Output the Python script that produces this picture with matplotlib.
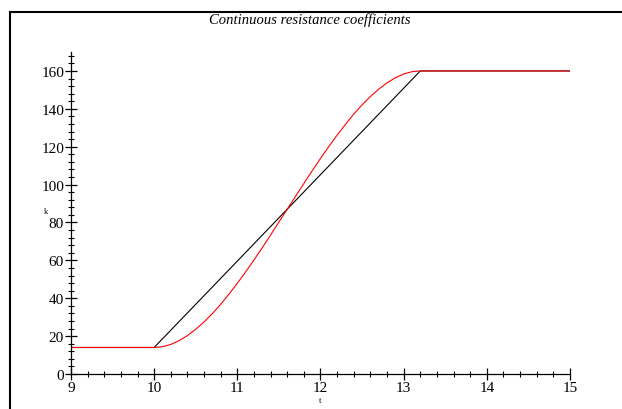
import numpy as np
import matplotlib
matplotlib.use('Agg')
import matplotlib.pyplot as plt
from matplotlib.lines import Line2D
from matplotlib.ticker import MultipleLocator

plt.rcParams['font.family'] = 'Liberation Serif'

#Piecewise linear coefficient (black)
t_lin = [9, 10, 13.2, 15]
k_lin = [14, 14, 160, 160]

#Smooth coefficient (red)
t_smooth = [9, 10, 10.1, 10.2, 10.3, 10.4, 10.5, 10.6, 10.7, 10.8, 10.9,
            11.0, 11.1, 11.2, 11.3, 11.4, 11.5, 11.6, 11.7, 11.8, 11.9,
            12.0, 12.1, 12.2, 12.3, 12.4, 12.5, 12.6, 12.7, 12.8, 12.9,
            13.0, 13.1, 13.2, 15]
k_smooth = [14, 14, 14.4, 15.6, 17.6, 20.3, 23.6, 27.5, 31.9, 36.8, 42.2,
            47.9, 53.9, 60.2, 66.7, 73.4, 80.2, 87.0, 93.8, 100.6, 107.3,
            113.8, 120.1, 126.1, 131.8, 137.2, 142.1, 146.5, 150.4, 153.7, 156.4,
            158.4, 159.6, 160, 160]

title = "Continuous resistance coefficients"

fig = plt.figure(figsize=(6.22, 4.10), dpi=100)
ax = fig.add_axes([71/622, 35/410, 499/622, 322/410])

ax.plot(t_lin, k_lin, color='black', lw=0.8)
ax.plot(t_smooth, k_smooth, color='#ff0000', lw=0.8)

ax.set_xlim(9, 15)
ax.set_ylim(0, 170)
ax.spines['top'].set_visible(False)
ax.spines['right'].set_visible(False)
for s in ['left', 'bottom']:
    ax.spines[s].set_linewidth(0.9)

ax.xaxis.set_major_locator(MultipleLocator(1))
ax.xaxis.set_minor_locator(MultipleLocator(0.2))
ax.yaxis.set_major_locator(MultipleLocator(20))
ax.yaxis.set_minor_locator(MultipleLocator(4))
ax.tick_params(which='major', direction='inout', length=8, width=0.9, labelsize=11, pad=1)
ax.tick_params(which='minor', direction='inout', length=4, width=0.8)

#Axis names, small like the original
ax.text(-0.05, 86 / 170, 'k', transform=ax.transAxes, fontsize=6, ha='center', va='center')
ax.text(0.5, -0.08, 't', transform=ax.transAxes, fontsize=6, ha='center', va='center')

fig.text(310/622, 1 - 20/410, title, fontsize=10.5, style='italic', ha='center', va='center')

#Outer frame (top and left edges visible)
fig.add_artist(Line2D([9.5/622, 1], [1 - 12.5/410, 1 - 12.5/410], color='black', lw=1.5,
                      transform=fig.transFigure))
fig.add_artist(Line2D([9.5/622, 9.5/622], [0, 1 - 12.5/410], color='black', lw=1.5,
                      transform=fig.transFigure))

fig.savefig('out.png', dpi=100)
